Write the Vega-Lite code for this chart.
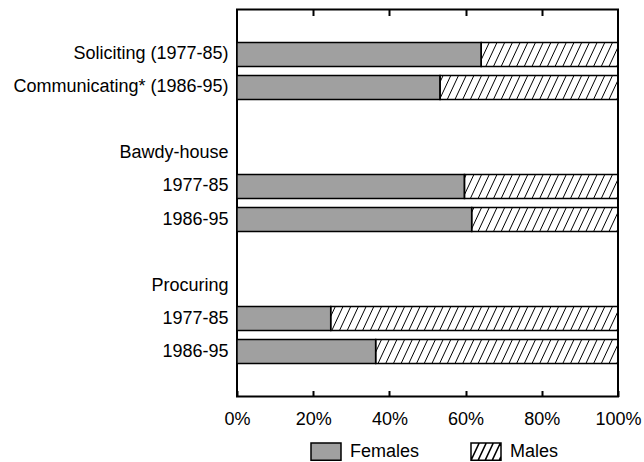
{
  "$schema": "https://vega.github.io/schema/vega-lite/v6.json",
  "width": 381,
  "height": 387,
  "autosize": {"type": "none"},
  "padding": {"left": 237, "top": 9.5, "right": 26, "bottom": 65.5},
  "background": "white",
  "config": {
    "font": "Liberation Sans",
    "view": {"stroke": "black", "strokeWidth": 2},
    "axis": {"labelFont": "Liberation Sans", "labelFontSize": 18, "labelColor": "black", "grid": false, "domain": false}
  },
  "data": {
    "values": [
      {"row": "Soliciting (1977-85)", "sex": "Females", "pct": 64.1},
      {"row": "Soliciting (1977-85)", "sex": "Males", "pct": 35.9},
      {"row": "Communicating* (1986-95)", "sex": "Females", "pct": 53.3},
      {"row": "Communicating* (1986-95)", "sex": "Males", "pct": 46.7},
      {"row": "Bawdy 1977-85", "sex": "Females", "pct": 59.7},
      {"row": "Bawdy 1977-85", "sex": "Males", "pct": 40.3},
      {"row": "Bawdy 1986-95", "sex": "Females", "pct": 61.6},
      {"row": "Bawdy 1986-95", "sex": "Males", "pct": 38.4},
      {"row": "Procuring 1977-85", "sex": "Females", "pct": 24.6},
      {"row": "Procuring 1977-85", "sex": "Males", "pct": 75.4},
      {"row": "Procuring 1986-95", "sex": "Females", "pct": 36.4},
      {"row": "Procuring 1986-95", "sex": "Males", "pct": 63.6}
    ]
  },
  "encoding": {
    "y": {
      "field": "row",
      "type": "nominal",
      "scale": {
        "domain": ["Soliciting (1977-85)", "Communicating* (1986-95)", "gap1", "Bawdy-house", "Bawdy 1977-85", "Bawdy 1986-95", "gap2", "Procuring", "Procuring 1977-85", "Procuring 1986-95"],
        "paddingInner": 0.277,
        "paddingOuter": 1.094
      },
      "axis": {
        "title": null,
        "ticks": false,
        "domain": false,
        "labelPadding": 9,
        "labelLimit": 0,
        "labelExpr": "indexof(datum.value,'gap')==0 ? '' : replace(replace(datum.value,'Bawdy ',''),'Procuring ','')"
      }
    }
  },
  "layer": [
    {
      "transform": [{"filter": "datum.sex === 'Males'"}],
      "mark": {
        "type": "point",
        "clip": true,
        "shape": "M-265,11.75l11,-23.5m-3.3,23.5l11,-23.5m-3.3,23.5l11,-23.5m-3.3,23.5l11,-23.5m-3.3,23.5l11,-23.5m-3.3,23.5l11,-23.5m-3.3,23.5l11,-23.5m-3.3,23.5l11,-23.5m-3.3,23.5l11,-23.5m-3.3,23.5l11,-23.5m-3.3,23.5l11,-23.5m-3.3,23.5l11,-23.5m-3.3,23.5l11,-23.5m-3.3,23.5l11,-23.5m-3.3,23.5l11,-23.5m-3.3,23.5l11,-23.5m-3.3,23.5l11,-23.5m-3.3,23.5l11,-23.5m-3.3,23.5l11,-23.5m-3.3,23.5l11,-23.5m-3.3,23.5l11,-23.5m-3.3,23.5l11,-23.5m-3.3,23.5l11,-23.5m-3.3,23.5l11,-23.5m-3.3,23.5l11,-23.5m-3.3,23.5l11,-23.5m-3.3,23.5l11,-23.5m-3.3,23.5l11,-23.5m-3.3,23.5l11,-23.5m-3.3,23.5l11,-23.5m-3.3,23.5l11,-23.5m-3.3,23.5l11,-23.5m-3.3,23.5l11,-23.5m-3.3,23.5l11,-23.5m-3.3,23.5l11,-23.5m-3.3,23.5l11,-23.5m-3.3,23.5l11,-23.5m-3.3,23.5l11,-23.5m-3.3,23.5l11,-23.5m-3.3,23.5l11,-23.5m-3.3,23.5l11,-23.5m-3.3,23.5l11,-23.5m-3.3,23.5l11,-23.5m-3.3,23.5l11,-23.5m-3.3,23.5l11,-23.5m-3.3,23.5l11,-23.5m-3.3,23.5l11,-23.5m-3.3,23.5l11,-23.5m-3.3,23.5l11,-23.5m-3.3,23.5l11,-23.5m-3.3,23.5l11,-23.5m-3.3,23.5l11,-23.5m-3.3,23.5l11,-23.5m-3.3,23.5l11,-23.5m-3.3,23.5l11,-23.5m-3.3,23.5l11,-23.5m-3.3,23.5l11,-23.5m-3.3,23.5l11,-23.5m-3.3,23.5l11,-23.5m-3.3,23.5l11,-23.5m-3.3,23.5l11,-23.5m-3.3,23.5l11,-23.5m-3.3,23.5l11,-23.5m-3.3,23.5l11,-23.5m-3.3,23.5l11,-23.5m-3.3,23.5l11,-23.5m-3.3,23.5l11,-23.5m-3.3,23.5l11,-23.5m-3.3,23.5l11,-23.5m-3.3,23.5l11,-23.5m-3.3,23.5l11,-23.5m-3.3,23.5l11,-23.5m-3.3,23.5l11,-23.5m-3.3,23.5l11,-23.5m-3.3,23.5",
        "size": 4,
        "filled": false,
        "stroke": "black",
        "strokeWidth": 1,
        "opacity": 1
      },
      "encoding": {
        "x": {
          "datum": 50,
          "type": "quantitative",
          "scale": {"domain": [0, 100], "nice": false},
          "axis": {"orient": "top", "labels": false, "title": null, "values": [20, 40, 60, 80], "tickSize": -6, "tickWidth": 2, "tickColor": "black", "domain": false, "grid": false}
        }
      }
    },
    {
      "mark": {"type": "bar", "stroke": "black", "strokeWidth": 1.5, "opacity": 1, "filled": true},
      "encoding": {
        "x": {
          "field": "pct",
          "type": "quantitative",
          "stack": "zero",
          "scale": {"domain": [0, 100], "nice": false},
          "axis": {"orient": "bottom", "title": null, "values": [0, 20, 40, 60, 80, 100], "labelExpr": "datum.value + '%'", "tickSize": -6, "tickWidth": 2, "tickColor": "black", "labelPadding": 20, "labelFlush": false, "domain": false, "grid": false}
        },
        "fill": {
          "condition": {"test": "datum.sex === 'Females'", "value": "#a0a0a0"},
          "value": "rgba(255,255,255,0)"
        },
        "order": {"field": "sex", "sort": "ascending"}
      }
    },
    {
      "transform": [{"filter": "datum.pct < 0"}],
      "mark": {"type": "point", "filled": true, "strokeWidth": 1.5, "size": 900, "opacity": 1},
      "encoding": {
        "x": {"field": "pct", "type": "quantitative", "axis": null},
        "fill": {
          "field": "sex",
          "type": "nominal",
          "scale": {"domain": ["Females", "Males"], "range": ["#a0a0a0", "rgba(255,255,255,0)"]},
          "legend": {"orient": "none", "legendX": 73, "legendY": 426, "direction": "horizontal", "title": null, "labelFont": "Liberation Sans", "labelFontSize": 18, "labelColor": "black", "labelOffset": 8, "columnPadding": 48, "symbolSize": 900, "symbolStrokeWidth": 1.5, "symbolOpacity": 1}
        },
        "stroke": {
          "field": "sex",
          "type": "nominal",
          "scale": {"domain": ["Females", "Males"], "range": ["black", "black"]},
          "legend": {"orient": "none", "legendX": 73, "legendY": 426, "direction": "horizontal", "title": null, "labelFont": "Liberation Sans", "labelFontSize": 18, "labelColor": "black", "labelOffset": 8, "columnPadding": 48, "symbolSize": 900, "symbolStrokeWidth": 1.5, "symbolOpacity": 1}
        },
        "shape": {
          "field": "sex",
          "type": "nominal",
          "scale": {"domain": ["Females", "Males"], "range": ["M-1,-0.583H1V0.583H-1Z", "M-1,-0.583H1V0.583H-1ZM-1,0.583L-0.45,-0.583M-0.53,0.583L0.02,-0.583M-0.06,0.583L0.49,-0.583M0.41,0.583L0.96,-0.583M0.88,0.583L1,0.329"]},
          "legend": {"orient": "none", "legendX": 73, "legendY": 426, "direction": "horizontal", "title": null, "labelFont": "Liberation Sans", "labelFontSize": 18, "labelColor": "black", "labelOffset": 8, "columnPadding": 48, "symbolSize": 900, "symbolStrokeWidth": 1.5, "symbolOpacity": 1}
        }
      }
    }
  ],
  "resolve": {"axis": {"x": "independent"}}
}
